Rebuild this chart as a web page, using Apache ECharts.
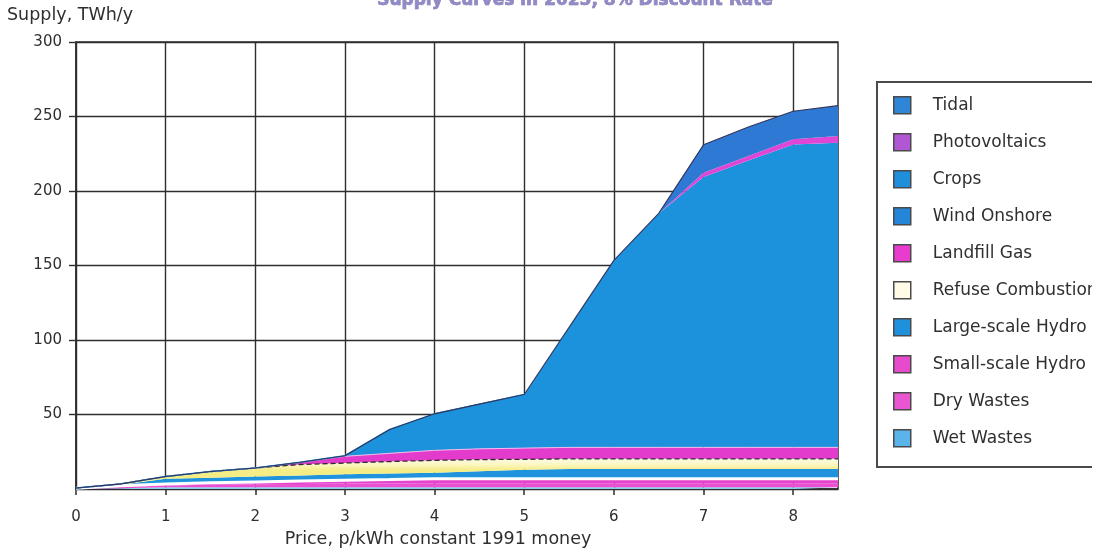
<!DOCTYPE html>
<html>
<head>
<meta charset="utf-8">
<script src="https://cdn.jsdelivr.net/npm/echarts@6/dist/echarts.min.js"></script>
<style>
  html, body { margin: 0; padding: 0; background: #ffffff; }
  #chart { width: 1099px; height: 553px; }
</style>
</head>
<body>
<div id="chart"></div>
<script>
// Price points, p/kWh (constant 1991 money), evenly spaced every 0.5
const prices = ['0', '0.5', '1', '1.5', '2', '2.5', '3', '3.5', '4', '4.5', '5', '5.5', '6', '6.5', '7', '7.5', '8', '8.5'];

// Supply added by each technology at each price, TWh/y (stacked bottom to top)
const wetWastes        = [0.3, 0.6, 1.2, 1.3, 1.3, 1.3, 1.3, 1.3, 1.3, 1.3, 1.3, 1.3, 1.3, 1.3, 1.3, 1.3, 1.3, 1.3];
const dryWastes        = [0.2, 0.8, 1.2, 1.7, 1.9, 2.2, 2.4, 2.5, 2.6, 2.7, 2.7, 2.7, 2.7, 2.7, 2.7, 2.7, 2.7, 2.7];
const smallHydro       = [0.1, 0.8, 1.1, 1.2, 1.6, 1.9, 2.3, 2.6, 3.0, 3.0, 3.0, 3.0, 3.0, 3.0, 3.0, 3.0, 3.0, 3.0];
const largeHydro       = [0.1, 0.8, 3.4, 3.4, 3.7, 3.8, 4.0, 4.1, 4.1, 5.0, 6.0, 6.5, 6.5, 6.5, 6.5, 6.5, 6.5, 6.5];
const refuseCombustion = [0.0, 0.5, 1.6, 4.2, 5.7, 7.3, 7.5, 8.0, 8.3, 7.8, 7.0, 6.8, 6.8, 6.8, 6.8, 6.8, 6.8, 6.8];
const landfillGas      = [0.0, 0.0, 0.0, 0.0, 0.0, 1.5, 4.5, 5.5, 6.7, 7.2, 7.5, 7.7, 7.7, 7.7, 7.7, 7.7, 7.7, 7.7];
const windOnshore      = [0, 0, 0, 0, 0, 0, 0.4, 16, 24.5, 30, 36, 36, 36, 36, 36, 36, 36, 36];
const crops            = [0, 0, 0, 0, 0, 0, 0, 0, 0, 0, 0, 44.5, 89.5, 121, 145.5, 156.5, 167.3, 168.4];
const photovoltaics    = [0, 0, 0, 0, 0, 0, 0, 0, 0, 0, 0, 0, 0, 0, 2.8, 3.0, 3.4, 4.5];
const tidal            = [0, 0, 0, 0, 0, 0, 0, 0, 0, 0, 0, 0, 0, 0, 18.7, 19.5, 18.8, 20.4];

// Y axis scale
const supplyMax = 300;
const supplyStep = 50;

const FONT = 'DejaVu Sans';
const TEXT = '#2f2f2f';
const GRID = '#2e2e2e';

function layer(name, values, color, extra) {
  return Object.assign({
    name: name,
    type: 'line',
    stack: 'supply',
    data: values,
    color: color,
    showSymbol: false,
    symbol: 'none',
    smooth: false,
    lineStyle: { width: 0, color: color },
    areaStyle: { color: color, opacity: 1 },
    emphasis: { disabled: true },
    silent: true
  }, extra || {});
}

const refuseFill = new echarts.graphic.LinearGradient(0, 0, 0, 1, [
  { offset: 0, color: '#fffbe6' },
  { offset: 0.2, color: '#fcf6c0' },
  { offset: 0.4, color: '#f4ec84' },
  { offset: 1, color: '#f4ec84' }
]);

// Wind and crops share one blue; a matching edge hides the seam between them
const BIG_BLUE = '#1d92dc';

const series = [
  layer('Wet Wastes', wetWastes, '#86cdf0'),
  layer('Dry Wastes', dryWastes, '#ea50d1'),
  layer('Small-scale Hydro', smallHydro, '#e443cc', { lineStyle: { width: 3, color: '#ffffff' } }),
  layer('Large-scale Hydro', largeHydro, '#1f93dc'),
  layer('Refuse Combustion', refuseCombustion, '#f6ef9c', {
    areaStyle: { color: refuseFill, opacity: 1 },
    lineStyle: { width: 1.3, color: '#2e2e2e', type: [5, 3] }
  }),
  layer('Landfill Gas', landfillGas, '#e33ccc', { lineStyle: { width: 1, color: '#f3b8ea' } }),
  layer('Wind Onshore', windOnshore, BIG_BLUE, { lineStyle: { width: 1.5, color: BIG_BLUE } }),
  layer('Crops', crops, BIG_BLUE),
  layer('Photovoltaics', photovoltaics, '#e046d6'),
  layer('Tidal', tidal, '#2d79d3', { lineStyle: { width: 1.1, color: '#34345a' } })
];

const legendItems = [
  { name: 'Tidal', itemStyle: { color: '#2f86d6' } },
  { name: 'Photovoltaics', itemStyle: { color: '#b257d4' } },
  { name: 'Crops', itemStyle: { color: '#1f8fdc' } },
  { name: 'Wind Onshore', itemStyle: { color: '#2585d8' } },
  { name: 'Landfill Gas', itemStyle: { color: '#e83ccf' } },
  { name: 'Refuse Combustion', itemStyle: { color: '#fffbe6' } },
  { name: 'Large-scale Hydro', itemStyle: { color: '#1e90dc' } },
  { name: 'Small-scale Hydro', itemStyle: { color: '#e84acc' } },
  { name: 'Dry Wastes', itemStyle: { color: '#ea55d2' } },
  { name: 'Wet Wastes', itemStyle: { color: '#5ab4ea' } }
];

const chart = echarts.init(document.getElementById('chart'), null, { renderer: 'canvas' });

chart.setOption({
  animation: false,
  backgroundColor: '#ffffff',
  textStyle: { fontFamily: FONT },
  title: [
    {
      text: 'Supply Curves in 2025, 8% Discount Rate',
      left: 575,
      top: -8,
      padding: 0,
      textAlign: 'center',
      textStyle: {
        fontFamily: FONT, fontSize: 17, fontWeight: 'bold', color: '#918ac9',
        textBorderColor: '#6d6796', textBorderWidth: 0.6
      }
    },
    {
      text: 'Supply, TWh/y',
      left: 7,
      top: 6,
      padding: 0,
      textStyle: { fontFamily: FONT, fontSize: 17.5, fontWeight: 'normal', color: TEXT }
    }
  ],
  grid: {
    left: 76, right: 261, top: 42, bottom: 61,
    show: true, borderColor: GRID, borderWidth: 1.5, backgroundColor: 'transparent'
  },
  legend: {
    data: legendItems,
    orient: 'vertical',
    left: 893,
    top: 96,
    padding: 0,
    icon: 'rect',
    itemWidth: 17,
    itemHeight: 17,
    itemGap: 18.5,
    selectedMode: false,
    itemStyle: { borderColor: '#4a4a4a', borderWidth: 1.5 },
    textStyle: { fontFamily: FONT, fontSize: 17, color: TEXT, lineHeight: 17, padding: [0, 0, 0, 17] }
  },
  xAxis: {
    type: 'category',
    data: prices,
    boundaryGap: false,
    name: 'Price, p/kWh constant 1991 money',
    nameLocation: 'middle',
    nameGap: 40,
    nameTextStyle: { fontFamily: FONT, fontSize: 17.5, color: TEXT, padding: [0, 38, 0, 0] },
    axisLine: { show: true, lineStyle: { color: GRID, width: 1.5 } },
    axisTick: { show: true, length: 6, interval: 1, lineStyle: { color: GRID, width: 1.5 } },
    axisLabel: { interval: 1, margin: 21, fontFamily: FONT, fontSize: 15, color: TEXT },
    splitLine: { show: true, interval: 1, lineStyle: { color: GRID, width: 1.4 } }
  },
  yAxis: {
    type: 'value',
    min: 0,
    max: supplyMax,
    interval: supplyStep,
    axisLine: { show: true, lineStyle: { color: GRID, width: 1.5 } },
    axisTick: { show: true, length: 7, lineStyle: { color: GRID, width: 1.4 } },
    axisLabel: { showMinLabel: false, margin: 14, fontFamily: FONT, fontSize: 15, color: TEXT },
    splitLine: { show: true, lineStyle: { color: GRID, width: 1.4 } }
  },
  graphic: [
    {
      type: 'rect',
      z: 100,
      shape: { x: 877, y: 82, width: 260, height: 385 },
      style: { fill: 'none', stroke: '#4a4a4a', lineWidth: 2 },
      silent: true
    },
    {
      type: 'rect',
      z: 200,
      shape: { x: 1092, y: 0, width: 10, height: 553 },
      style: { fill: '#ffffff' },
      silent: true
    }
  ],
  series: series
});
</script>
</body>
</html>
